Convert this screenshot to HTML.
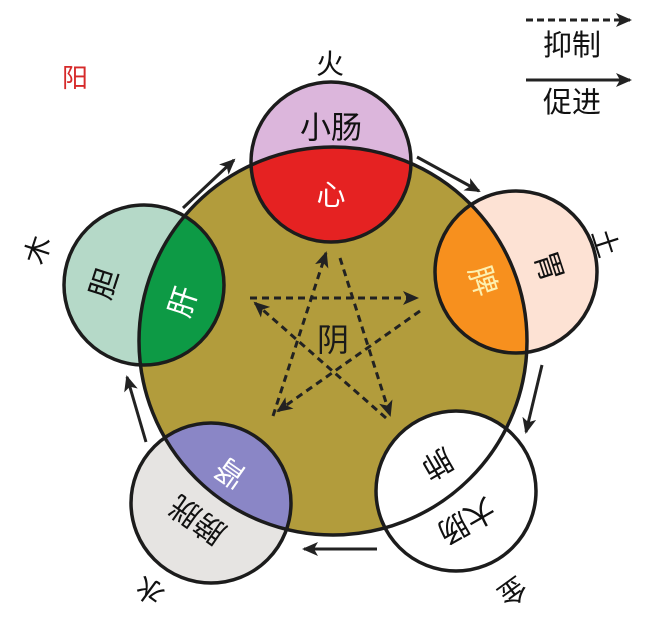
<!DOCTYPE html>
<html><head><meta charset="utf-8"><style>
html,body{margin:0;padding:0;background:#fff;}
svg{display:block;}
text{font-family:"Liberation Sans","Noto Sans CJK SC",sans-serif;text-anchor:middle;dominant-baseline:central;}
</style></head><body>
<svg width="655" height="617" viewBox="0 0 655 617" xmlns="http://www.w3.org/2000/svg">
<defs>
<clipPath id="big"><circle cx="333" cy="341" r="194"/></clipPath>
<marker id="ah2" markerWidth="16" markerHeight="14" refX="14" refY="7" orient="auto" markerUnits="userSpaceOnUse"><path d="M0,0 L16,7 L0,14 L4,7 z" fill="#222"/></marker>
</defs>
<circle cx="331" cy="162" r="80" fill="#dcb6dc"/>
<circle cx="144" cy="285" r="80" fill="#b5d9c8"/>
<circle cx="516" cy="272" r="81" fill="#fde2d4"/>
<circle cx="211" cy="503" r="80" fill="#e6e4e2"/>
<circle cx="456" cy="491" r="80" fill="#ffffff"/>
<circle cx="333" cy="341" r="194" fill="#b29c3c"/>
<g clip-path="url(#big)">
<circle cx="331" cy="162" r="80" fill="#e52222"/>
<circle cx="144" cy="285" r="80" fill="#0d9a45"/>
<circle cx="516" cy="272" r="81" fill="#f7901e"/>
<circle cx="211" cy="503" r="80" fill="#8a86c6"/>
<circle cx="456" cy="491" r="80" fill="#ffffff"/>
</g>
<g fill="none" stroke="#1c1c1c" stroke-width="3.5">
<circle cx="333" cy="341" r="194"/>
<circle cx="331" cy="162" r="80"/>
<circle cx="144" cy="285" r="80"/>
<circle cx="516" cy="272" r="81"/>
<circle cx="211" cy="503" r="80"/>
<circle cx="456" cy="491" r="80"/>
</g>
<g stroke="#222" stroke-width="3" fill="none" marker-end="url(#ah2)">
<line x1="183" y1="208" x2="234" y2="160"/>
<line x1="417" y1="157" x2="479" y2="191"/>
<line x1="542" y1="365" x2="526" y2="432"/>
<line x1="377" y1="549" x2="304" y2="549"/>
<line x1="146" y1="442" x2="127" y2="377"/>
</g>
<g stroke="#222" stroke-width="3" fill="none" stroke-dasharray="7,5" marker-end="url(#ah2)">
<line x1="250" y1="298" x2="417" y2="298"/>
<line x1="273" y1="416" x2="326" y2="253"/>
<line x1="340" y1="258" x2="390" y2="415"/>
<line x1="420" y1="311" x2="278" y2="411"/>
<line x1="386" y1="418" x2="255" y2="303"/>
</g>
<text x="333" y="340" font-size="32" fill="#1a1a1a">阴</text>
<text x="331" y="128" font-size="31" fill="#111">小肠</text>
<text x="331" y="196" font-size="29" fill="#fff">心</text>
<text x="105" y="284" font-size="30" fill="#111" transform="rotate(-72 105 284)">胆</text>
<text x="184" y="302" font-size="30" fill="#fff" transform="rotate(-72 184 302)">肝</text>
<text x="482" y="281" font-size="30" fill="#fdf0b0" transform="rotate(72 482 281)">脾</text>
<text x="548" y="267" font-size="30" fill="#111" transform="rotate(72 548 267)">胃</text>
<text x="437" y="463" font-size="30" fill="#111" transform="rotate(150 437 463)">肺</text>
<text x="466" y="520" font-size="30" fill="#111" transform="rotate(150 466 520)">大肠</text>
<text x="231" y="472" font-size="30" fill="#fff" transform="rotate(-145 231 472)">肾</text>
<text x="198" y="519" font-size="30" fill="#111" transform="rotate(-145 198 519)">膀胱</text>
<text x="330" y="64" font-size="28" fill="#111">火</text>
<text x="605" y="243" font-size="28" fill="#111" transform="rotate(72 605 243)">土</text>
<text x="38" y="250" font-size="28" fill="#111" transform="rotate(-72 38 250)">木</text>
<text x="512" y="591" font-size="28" fill="#111" transform="rotate(144 512 591)">金</text>
<text x="150" y="590" font-size="28" fill="#111" transform="rotate(-144 150 590)">水</text>
<text x="75" y="78" font-size="26" fill="#d62a2a">阳</text>
<line x1="526" y1="20" x2="630" y2="20" stroke="#222" stroke-width="3" stroke-dasharray="7,4" marker-end="url(#ah2)"/>
<text x="572" y="46" font-size="29" fill="#111">抑制</text>
<line x1="526" y1="80" x2="630" y2="80" stroke="#222" stroke-width="3" marker-end="url(#ah2)"/>
<text x="572" y="103" font-size="29" fill="#111">促进</text>
</svg>
</body></html>
